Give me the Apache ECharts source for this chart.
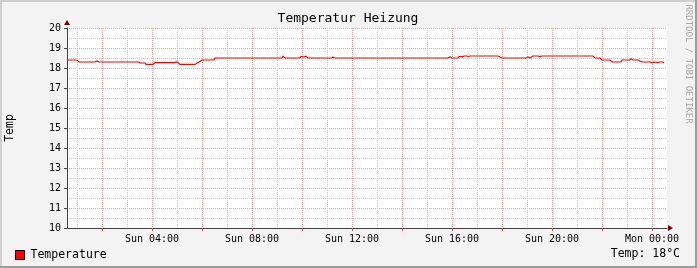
<!DOCTYPE html>
<html>
<head>
<meta charset="utf-8">
<script src="https://cdn.jsdelivr.net/npm/echarts@6/dist/echarts.min.js"></script>
<style>
html,body{margin:0;padding:0;background:#f3f3f3;}
#c{width:697px;height:268px;}
</style>
</head>
<body>
<div id="c"></div>
<script>
// Time in hours since Sun 00:00
const timeHours = [0.60,1.00,1.08,1.72,1.80,1.88,3.48,3.52,3.72,3.76,4.04,4.12,4.88,5.00,5.12,5.72,5.80,5.88,6.00,6.48,6.52,9.20,9.24,9.32,9.92,9.96,10.04,10.16,10.24,11.20,11.24,11.32,15.84,15.92,16.00,16.24,16.28,16.44,16.48,16.60,16.64,16.72,17.84,18.00,18.96,19.04,19.12,19.24,19.44,19.52,19.60,21.64,21.72,21.92,22.00,22.32,22.40,22.76,22.80,23.12,23.16,23.24,23.44,23.52,23.60,23.92,24.00,24.12,24.24,24.32,24.44,24.48];
const temperature = [18.4,18.4,18.3,18.3,18.35,18.3,18.3,18.25,18.25,18.18,18.18,18.27,18.27,18.3,18.18,18.18,18.25,18.3,18.4,18.4,18.5,18.5,18.58,18.5,18.5,18.58,18.55,18.58,18.5,18.5,18.55,18.5,18.5,18.55,18.5,18.5,18.57,18.57,18.6,18.6,18.57,18.6,18.6,18.5,18.5,18.55,18.5,18.6,18.6,18.57,18.6,18.6,18.5,18.5,18.4,18.4,18.3,18.3,18.4,18.4,18.47,18.4,18.4,18.35,18.3,18.3,18.27,18.3,18.27,18.3,18.3,18.25];
const xMajorHours = [2,4,6,8,10,12,14,16,18,20,22,24];
const xMinorHours = [1,2,3,4,5,6,7,8,9,10,11,12,13,14,15,16,17,18,19,20,21,22,23,24];
const xLabelHours = [4,8,12,16,20,24];
const xLabelTexts = ['Sun 04:00','Sun 08:00','Sun 12:00','Sun 16:00','Sun 20:00','Mon 00:00'];
const yTicks = [10,11,12,13,14,15,16,17,18,19,20];

const FONT = '"DejaVu Sans Mono", monospace';
const chart = echarts.init(document.getElementById('c'), null, {renderer:'canvas'});
const data = timeHours.map((t,i)=>[t, temperature[i]]);

chart.setOption({
  backgroundColor: '#f3f3f3',
  animation: false,
  title: {
    text: 'Temperatur Heizung',
    left: 348, top: 12, padding: 0, textAlign: 'center',
    textStyle: {fontFamily: FONT, fontSize: 13, fontWeight: 'normal', color: '#000'}
  },
  legend: {
    left: 15, top: 249, padding: 0, itemWidth: 9, itemHeight: 9,
    textStyle: {fontFamily: FONT, fontSize: 11.5, color: '#000', padding: [0,0,0,1]},
    data: [{name: 'Temperature', icon: 'rect', itemStyle: {color: '#ff0000', borderColor: '#000', borderWidth: 1}}]
  },
  grid: {left: 67, top: 28, width: 600, height: 200, show: true, backgroundColor: '#fff', borderWidth: 0,
         outerBoundsMode: 'none', containLabel: false},
  xAxis: [
    {
      type: 'value', min: 0.6, max: 24.6, z: 2,
      axisLine: {show: true, lineStyle: {color: '#404040', width: 1}},
      axisTick: {show: true, customValues: xMajorHours, length: 3, lineStyle: {color: '#c06060'}},
      axisLabel: {
        customValues: xLabelHours, margin: 6,
        fontFamily: FONT, fontSize: 10, color: '#000',
        formatter: v => { const i = xLabelHours.findIndex(h => Math.abs(h - v) < 1e-6); return i >= 0 ? xLabelTexts[i] : ''; }
      },
      splitLine: {show: true, lineStyle: {color: '#ffa0a0', type: [1,1], width: 1}}
    },
    {
      type: 'value', min: 0.6, max: 24.6, z: 1, position: 'bottom',
      axisLine: {show: false},
      axisTick: {show: false, customValues: xMinorHours},
      axisLabel: {show: false},
      splitLine: {show: true, lineStyle: {color: '#c8c8c8', type: [1,1], width: 1}}
    }
  ],
  yAxis: {
    type: 'value', min: 10, max: 20, interval: 1,
    name: 'Temp', nameLocation: 'middle', nameRotate: 90, nameGap: 51,
    nameTextStyle: {fontFamily: FONT, fontSize: 11.5, color: '#000'},
    axisLine: {show: true, lineStyle: {color: '#404040', width: 1}},
    axisTick: {show: true, length: 3, lineStyle: {color: '#404040'}},
    axisLabel: {margin: 6, fontFamily: FONT, fontSize: 10, color: '#000',
      customValues: yTicks},
    splitLine: {show: true, lineStyle: {color: '#ffa0a0', type: [1,1], width: 1}},
    minorTick: {show: false, splitNumber: 2},
    minorSplitLine: {show: true, lineStyle: {color: '#c8c8c8', type: [1,1], width: 1}}
  },
  series: [{
    name: 'Temperature', type: 'custom', data: data,
    xAxisIndex: 0, yAxisIndex: 0, encode: {x: 0, y: 1},
    itemStyle: {color: '#ff0000'},
    z: 5,
    renderItem: (params, api) => {
      if (params.dataIndex !== 0) return;
      const pts = data.map(d => api.coord(d));
      return {type: 'polyline', shape: {points: pts}, style: {stroke: '#ff0000', lineWidth: 1.2, fill: null}};
    }
  }],
  graphic: [
    {type: 'polygon', shape: {points: [[64,25],[70,25],[67,20]]}, style: {fill: '#7f0000'}, z: 10},
    {type: 'polygon', shape: {points: [[668,225],[668,231],[673,228]]}, style: {fill: '#7f0000'}, z: 10},
    {type: 'text', x: 680, y: 254, style: {text: 'Temp: 18°C', font: '11.5px ' + FONT, fill: '#000', align: 'right', verticalAlign: 'middle'}},
    {type: 'text', x: 688, y: 64, rotation: -Math.PI/2, style: {text: 'RRDTOOL / TOBI OETIKER', font: '9px ' + FONT, fill: '#a8a8a8', align: 'center', verticalAlign: 'middle'}},
    {type: 'rect', shape: {x: 0, y: 0, width: 697, height: 2}, style: {fill: '#cfcfcf'}, z: 20},
    {type: 'rect', shape: {x: 0, y: 0, width: 2, height: 268}, style: {fill: '#cfcfcf'}, z: 20},
    {type: 'rect', shape: {x: 0, y: 266, width: 697, height: 2}, style: {fill: '#9c9c9c'}, z: 20},
    {type: 'rect', shape: {x: 695, y: 0, width: 2, height: 268}, style: {fill: '#9c9c9c'}, z: 20}
  ]
});
</script>
</body>
</html>
